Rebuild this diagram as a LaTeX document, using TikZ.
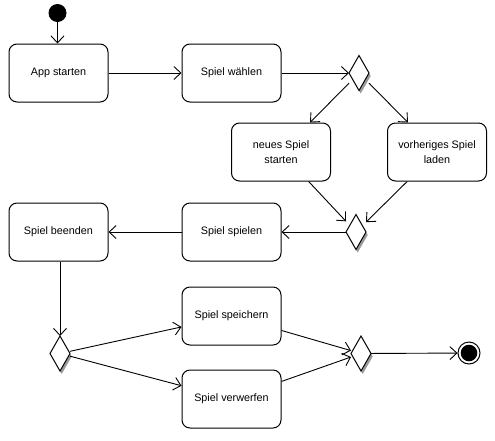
\documentclass[tikz,border=0pt]{standalone}
\usepackage{fontspec}
\setmainfont{Liberation Sans}
\usetikzlibrary{arrows.meta}
\definecolor{shadowgray}{HTML}{999999}
\begin{document}
\begin{tikzpicture}[x=1pt,y=-1pt,
  act/.style={draw,line width=1pt,rounded corners=8pt,minimum width=99pt,
    minimum height=58pt,inner sep=0pt,align=center,
    font=\fontsize{10.8}{15}\selectfont},
  branch/.style={minimum width=20pt,minimum height=35pt,inner sep=0pt,outer sep=0pt},
  flow/.style={line width=0.9pt,-{Straight Barb[length=7pt,width=13pt]}},
]
\useasboundingbox (0,0) rectangle (495,440);

% initial and final states
\node[circle,fill=black,minimum size=18pt,inner sep=0pt] (start) at (57.5,13) {};
\node[circle,draw,line width=1pt,minimum size=22pt,inner sep=0pt] (end) at (469,353) {};
\fill (end) circle (8.3);

% activities
\node[act] (app)       at (58.5,73)  {App starten};
\node[act] (wahl)      at (231.5,73) {Spiel wählen};
\node[act] (neu)       at (281,152)  {neues Spiel\\starten};
\node[act] (vor)       at (437,152)  {vorheriges Spiel\\laden};
\node[act] (spielen)   at (231.5,232) {Spiel spielen};
\node[act] (beenden)   at (58.5,232) {Spiel beenden};
\node[act] (speichern) at (231.5,316) {Spiel speichern};
\node[act] (verwerfen) at (231.5,399) {Spiel verwerfen};

% decision / merge points
\node[branch] (d1) at (359,73)    {};
\node[branch] (d2) at (356,232)   {};
\node[branch] (d3) at (60,353.5)  {};
\node[branch] (d4) at (361,353.5) {};
\foreach \d in {d1,d2,d3,d4} {
  \fill[shadowgray] ([shift={(1.7,3)}]\d.north) -- ([shift={(1.7,3)}]\d.east)
    -- ([shift={(1.7,3)}]\d.south) -- ([shift={(1.7,3)}]\d.west) -- cycle;
  \draw[line width=1pt,fill=white] (\d.north) -- (\d.east) -- (\d.south) -- (\d.west) -- cycle;
}

% control flow
\draw[flow] (start) -- (start |- app.north);
\draw[flow] (app) -- (wahl);
\draw[flow] (wahl) -- (d1);
\draw[flow] (d1) -- (neu);
\draw[flow] (d1) -- (vor);
\draw[flow] (neu) -- (d2);
\draw[flow] (vor) -- (d2);
\draw[flow] (d2) -- (spielen);
\draw[flow] (spielen) -- (beenden);
\draw[flow] (beenden.south -| d3) -- (d3.north);
\draw[flow] (d3) -- (speichern);
\draw[flow] (d3) -- (verwerfen);
\draw[flow] (speichern) -- (d4);
\draw[flow] (verwerfen) -- (d4);
\draw[flow] (d4) -- (end);
\end{tikzpicture}
\end{document}
